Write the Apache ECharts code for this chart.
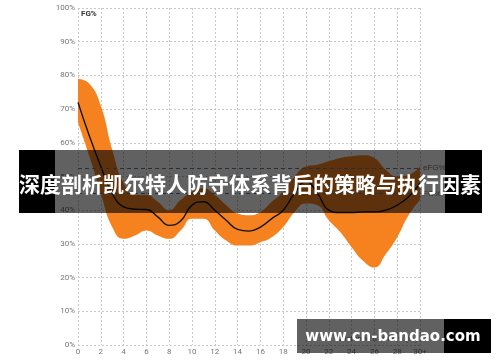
<!DOCTYPE html>
<html>
<head>
<meta charset="utf-8">
<script src="https://cdn.jsdelivr.net/npm/echarts@6/dist/echarts.min.js"></script>
<style>html,body{margin:0;padding:0;background:#fff;}#c{width:500px;height:362px;}</style>
</head>
<body>
<div id="c"></div>
<script>
// Shot distance (ft)
var distances = ['0','1','2','3','4','5','6','7','8','9','10','11','12','13','14','15','16','17','18','19','20','21','22','23','24','25','26','27','28','29','30'];
// FG% line
var fgLine = [72,62,53,45,41,40.3,40.2,38,35.5,36.8,41.5,42.5,40,37,34.3,33.8,35,37.5,40,45,48.5,45,40,39.3,39.3,39.5,39.5,40,41.5,44,48];
// Band lower / upper bounds
var bandLower = [66,56,45,35,31.5,32.5,34,32.5,31.5,34,37.5,37.5,34,31,29.5,29.5,30.5,32,35,39.5,42,41.5,37,33.5,29,25,23,27,32,38.5,43];
var bandUpper = [79,77.5,71,58,48,44.5,44.5,42.5,40,43,45.5,46.5,44.5,41.5,39,38.5,39.5,42.5,45.5,50,53,53.5,54.5,55.5,56,56.3,55.5,52,50,50.5,53];
// Reference lines
var refNames = ['eFG%','FG%'];
var refValues = [52.5,45];
var titleText = '深度剖析凯尔特人防守体系背后的策略与执行因素';
var watermarkText = 'www.cn-bandao.com';

var chart = echarts.init(document.getElementById('c'), null, {renderer:'canvas'});
var bandDiff = bandUpper.map(function(u,i){ return u - bandLower[i]; });
var every2 = function(i){ return i % 2 === 0; };

var option = {
  animation:false,
  grid:{left:78,right:80,top:8,bottom:17,containLabel:false},
  xAxis:{
    type:'category',data:distances,boundaryGap:false,
    name:'Distance from rim (ft.)',nameLocation:'end',nameGap:-2,
    nameTextStyle:{color:'#888',fontSize:8,align:'right',verticalAlign:'bottom',padding:[0,0,2,0],fontFamily:'Roboto'},
    axisLine:{show:false},axisTick:{show:false},
    axisLabel:{color:'#777',fontSize:8,margin:3,fontFamily:'Roboto',interval:every2,
      formatter:function(v){ return v==='30' ? '30+' : v; }},
    splitLine:{show:true,interval:every2,lineStyle:{color:'#c8c8c8',type:[2,2],width:1}}
  },
  yAxis:{
    type:'value',min:0,max:100,interval:10,
    name:'FG%',nameLocation:'end',nameGap:-10,
    nameTextStyle:{color:'#333',fontSize:8,fontWeight:'bold',align:'left',padding:[0,0,0,3],fontFamily:'Roboto'},
    axisLine:{show:false},axisTick:{show:false},
    axisLabel:{color:'#777',fontSize:8,margin:3,fontFamily:'Roboto',formatter:'{value}%'},
    splitLine:{show:true,lineStyle:{color:'#c8c8c8',type:[2,2],width:1}}
  },
  series:[
    {type:'line',data:bandLower,stack:'band',smooth:0.5,symbol:'none',
      lineStyle:{opacity:0},areaStyle:{opacity:0},silent:true,z:2},
    {type:'line',data:bandDiff,stack:'band',smooth:0.5,symbol:'none',
      lineStyle:{opacity:0},areaStyle:{color:'#F5821F',opacity:1},silent:true,z:2},
    {type:'line',data:fgLine,smooth:0.5,symbol:'none',
      lineStyle:{color:'#111',width:1.4},z:4,
      markLine:{symbol:'none',silent:true,
        lineStyle:{color:'#5b7fa3',type:[4,3],width:1.2},
        label:{position:'end',color:'#777',fontSize:8,distance:3,formatter:'{b}'},
        data:refNames.map(function(n,i){ return {name:n,yAxis:refValues[i]}; })}
    }
  ],
  graphic:[
    {type:'rect',z:100,shape:{x:19,y:150,width:36,height:63},style:{fill:'#000'}},
    {type:'rect',z:100,shape:{x:445,y:150,width:37,height:63},style:{fill:'#000'}},
    {type:'rect',z:100,shape:{x:55,y:150,width:390,height:63},style:{fill:'rgba(0,0,0,0.62)'}},
    {type:'text',z:101,x:250,y:184,style:{text:titleText,fill:'#fff',font:'bold 21px "Noto Sans CJK SC"',align:'center',verticalAlign:'middle'}},
    {type:'rect',z:100,shape:{x:444,y:319,width:47,height:34},style:{fill:'#000'}},
    {type:'rect',z:100,shape:{x:297,y:319,width:147,height:34},style:{fill:'rgba(0,0,0,0.62)'}},
    {type:'text',z:101,x:393,y:337,style:{text:watermarkText,fill:'#fff',font:'bold 15px "DejaVu Sans"',align:'center',verticalAlign:'middle'}}
  ]
};
chart.setOption(option);
</script>
</body>
</html>
